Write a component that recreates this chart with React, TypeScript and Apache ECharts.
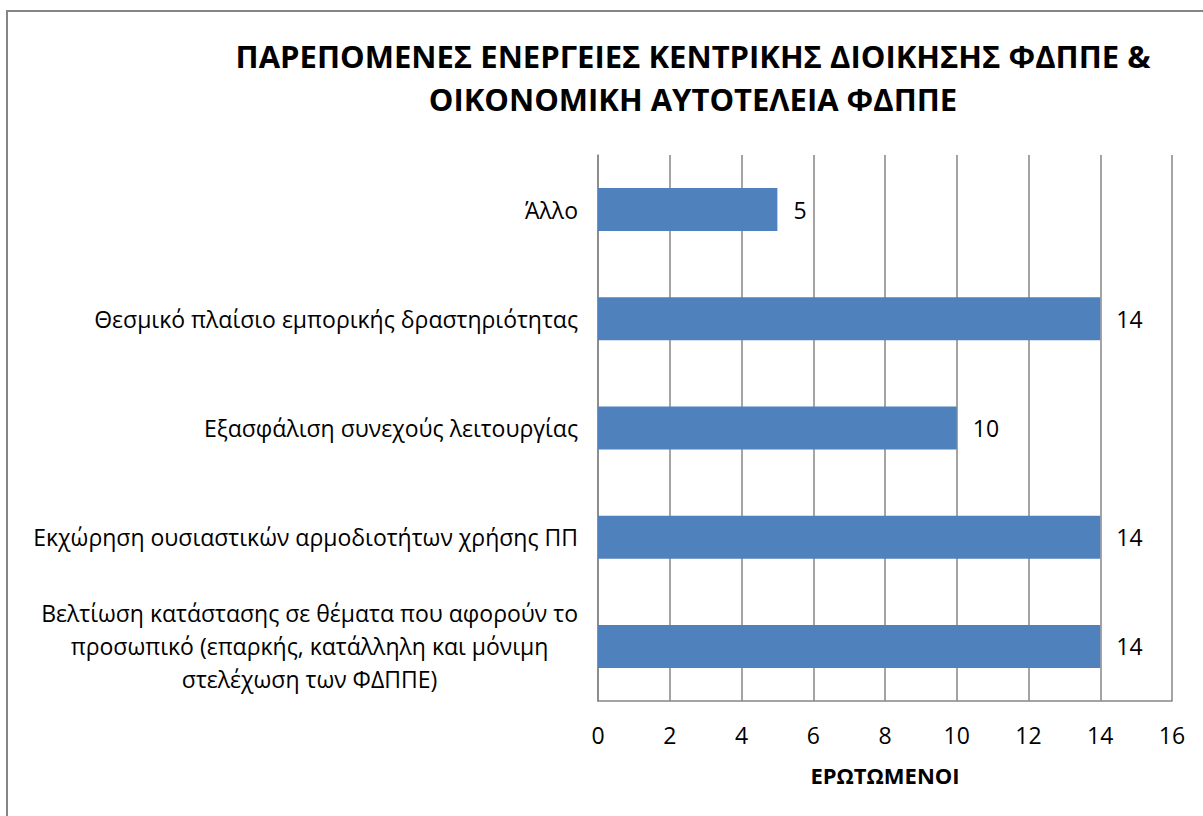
import React, { useEffect, useRef } from "react";
import * as echarts from "echarts";

const titleText = "ΠΑΡΕΠΟΜΕΝΕΣ ΕΝΕΡΓΕΙΕΣ ΚΕΝΤΡΙΚΗΣ ΔΙΟΙΚΗΣΗΣ ΦΔΠΠΕ &\nΟΙΚΟΝΟΜΙΚΗ ΑΥΤΟΤΕΛΕΙΑ ΦΔΠΠΕ";
const axisName = "ΕΡΩΤΩΜΕΝΟΙ";
const categories = [
  "Άλλο",
  "Θεσμικό πλαίσιο εμπορικής δραστηριότητας",
  "Εξασφάλιση συνεχούς λειτουργίας",
  "Εκχώρηση ουσιαστικών αρμοδιοτήτων χρήσης ΠΠ",
  "Βελτίωση κατάστασης σε θέματα που αφορούν το\nπροσωπικό (επαρκής, κατάλληλη και μόνιμη\nστελέχωση των ΦΔΠΠΕ)",
];
const values = [5, 14, 10, 14, 14];
const xMin = 0;
const xMax = 16;
const xInterval = 2;

const FONT = "Open Sans";
const GRAY = "#868686";

export default function App() {
  const ref = useRef<HTMLDivElement>(null);
  useEffect(() => {
    document.body.style.margin = "0";
    const chart = echarts.init(ref.current!, null, { renderer: "svg" });
    chart.setOption({
      animation: false,
      backgroundColor: "#ffffff",
      title: {
        text: titleText,
        left: 693,
        top: 34,
        padding: 0,
        textAlign: "center",
        textStyle: {
          fontFamily: FONT,
          fontWeight: "bold",
          fontSize: 31,
          lineHeight: 43,
          color: "#000000",
        },
      },
      graphic: [
        {
          type: "rect",
          shape: { x: 7, y: 11, width: 1300, height: 900 },
          style: { fill: "none", stroke: GRAY, lineWidth: 2 },
          silent: true,
          z: -1,
        },
      ],
      grid: {
        left: 598,
        right: 31,
        top: 155,
        bottom: 115,
        outerBoundsMode: "none",
      },
      xAxis: {
        type: "value",
        min: xMin,
        max: xMax,
        interval: xInterval,
        name: axisName,
        nameLocation: "middle",
        nameGap: 63,
        nameTextStyle: {
          fontFamily: FONT,
          fontWeight: "bold",
          fontSize: 22,
          color: "#000000",
        },
        axisLine: { show: true, lineStyle: { color: GRAY, width: 1.5 } },
        axisTick: { show: false },
        axisLabel: {
          margin: 22,
          fontFamily: FONT,
          fontSize: 23,
          color: "#000000",
        },
        splitLine: { show: true, lineStyle: { color: GRAY, width: 1.5 } },
      },
      yAxis: {
        type: "category",
        inverse: true,
        data: categories,
        axisLine: { show: true, lineStyle: { color: GRAY, width: 1.5 } },
        axisTick: { show: false },
        axisLabel: {
          margin: 20,
          align: "right",
          fontFamily: FONT,
          fontSize: 23,
          lineHeight: 33,
          color: "#000000",
          formatter: (v: string) =>
            v
              .split("\n")
              .map((l) => `{c|${l}}`)
              .join("\n"),
          rich: {
            c: {
              align: "center",
              fontFamily: FONT,
              fontSize: 23,
              lineHeight: 33,
              color: "#000000",
            },
          },
        },
        splitLine: { show: false },
      },
      series: [
        {
          type: "bar",
          data: values,
          barWidth: 43,
          itemStyle: { color: "#4F81BD" },
          label: {
            show: true,
            position: "right",
            distance: 16,
            fontFamily: FONT,
            fontSize: 23,
            color: "#000000",
          },
        },
      ],
    });
    return () => chart.dispose();
  }, []);
  return <div ref={ref} style={{ width: 1203, height: 816 }} />;
}
